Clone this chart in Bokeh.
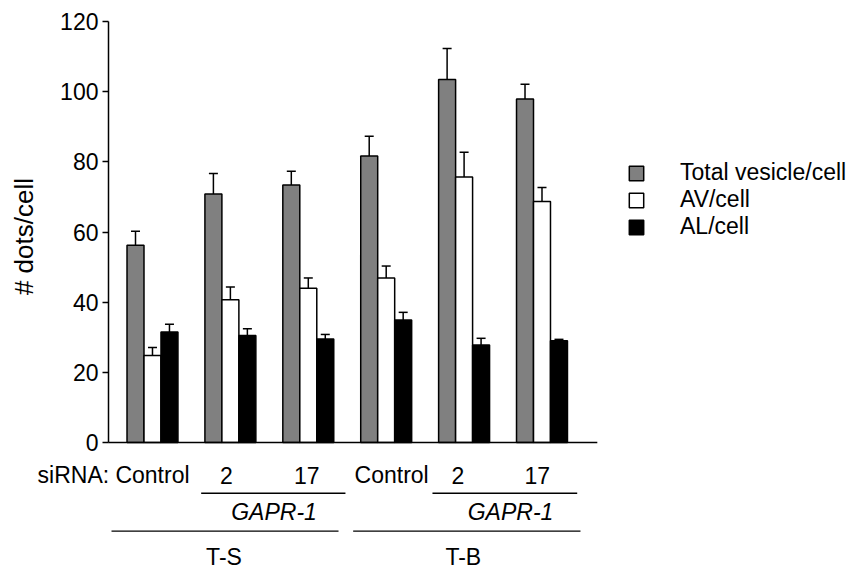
import math
from bokeh.plotting import figure
from bokeh.models import (Range1d, ColumnDataSource, Whisker, TeeHead,
                          Legend, LegendItem, FixedTicker)
from bokeh.core.properties import value
from bokeh.transform import dodge
from bokeh.embed import file_html
from bokeh.resources import INLINE

# ---------------- data ----------------
groups = [0, 1, 2, 3, 4, 5]
sirna_labels = ["Control", "2", "17", "Control", "2", "17"]
series_names = ["Total vesicle/cell", "AV/cell", "AL/cell"]
total = [56.2, 70.8, 73.4, 81.7, 103.5, 97.9]
total_err = [4.0, 5.9, 3.9, 5.6, 8.8, 4.2]
av = [24.8, 40.7, 44.0, 46.9, 75.7, 68.7]
av_err = [2.3, 3.6, 2.9, 3.4, 7.0, 4.0]
al = [31.5, 30.5, 29.5, 34.9, 27.8, 29.0]
al_err = [2.2, 1.9, 1.3, 2.2, 1.9, 0.4]
y_ticks = [0, 20, 40, 60, 80, 100, 120]
gene_label = "GAPR-1"
cell_lines = ["T-S", "T-B"]
y_title = "# dots/cell"

FONT = "Liberation Sans"
FS = "23px"

X0, X1 = -1.951, 9.05
Y0, Y1 = -36.77, 125.99
AXIS_X = -0.565

p = figure(width=857, height=571, output_backend="svg", toolbar_location=None,
           x_range=Range1d(X0, X1), y_range=Range1d(Y0, Y1),
           min_border_left=0, min_border_right=0, min_border_top=0,
           min_border_bottom=0)
p.outline_line_color = None
p.xgrid.visible = False
p.ygrid.visible = False
p.xaxis.visible = False
p.background_fill_color = "white"
p.border_fill_color = "white"

ya = p.yaxis[0]
ya.fixed_location = AXIS_X
ya.ticker = FixedTicker(ticks=y_ticks)
ya.bounds = (0, 120)
ya.major_tick_out = 6
ya.major_tick_in = 0
ya.minor_tick_out = 0
ya.minor_tick_in = 0
ya.axis_line_width = 1.5
ya.major_tick_line_width = 1.5
ya.major_label_standoff = 4
ya.major_label_text_font = FONT
ya.major_label_text_font_size = FS
ya.major_label_text_color = "black"

src = ColumnDataSource(dict(
    x=groups, total=total, av=av, al=al,
    total_top=[v + e for v, e in zip(total, total_err)],
    av_top=[v + e for v, e in zip(av, av_err)],
    al_top=[v + e for v, e in zip(al, al_err)],
))

BW = 0.218
specs = [("total", -BW, "#808080"), ("av", 0.0, "white"), ("al", BW, "black")]
renderers = []
for col, off, color in specs:
    r = p.vbar(x=dodge("x", off, range=p.x_range), top=col, width=BW, bottom=0,
               source=src, fill_color=color, line_color="black", line_width=1.5)
    renderers.append(r)
    w = Whisker(base=dodge("x", off, range=p.x_range), lower=col, upper=col + "_top",
                source=src, dimension="height", line_width=1.5, line_color="black",
                lower_head=None,
                upper_head=TeeHead(size=9, line_width=1.5, line_color="black"))
    p.add_layout(w)

# x axis line
p.segment(x0=[AXIS_X], y0=[0], x1=[5.71], y1=[0], line_color="black", line_width=1.5)

# y axis title
p.text(x=[-1.643], y=[58.7], text=[y_title], angle=math.pi / 2,
       text_align="center", text_baseline="middle",
       text_font=value(FONT), text_font_size="26px", text_color="black")

# legend
legend = Legend(items=[LegendItem(label=n, renderers=[r]) for n, r in zip(series_names, renderers)],
                location=(627, 331), glyph_width=18, glyph_height=18, label_standoff=35,
                spacing=0, padding=0, margin=0, border_line_alpha=0, background_fill_alpha=0,
                label_text_font=FONT, label_text_font_size=FS, label_text_color="black")
p.add_layout(legend)

def lab(xs, ys, texts, align="center", style="normal"):
    p.text(x=xs, y=ys, text=texts, text_align=align, text_baseline="middle",
           text_font=value(FONT), text_font_size=FS, text_font_style=style,
           text_color="black")

def hlines(x0s, x1s, y):
    p.segment(x0=x0s, y0=[y] * len(x0s), x1=x1s, y1=[y] * len(x0s),
              line_color="black", line_width=1.3)

# row of siRNA labels
nudges = [0.0, -0.05, -0.02, 0.07, -0.08, -0.06]
lab([-1.475], [-9.4], ["siRNA:"], align="left")
lab([g + n for g, n in zip(groups, nudges)], [-9.4] * len(groups), sirna_labels)

# GAPR-1 underlines and labels
hlines([0.625, 3.594], [2.477, 5.452], -14.46)
lab([1.56, 4.596], [-19.9, -19.9], [gene_label, gene_label], style="italic")

# cell line underlines and labels
hlines([-0.526, 2.576], [2.388, 5.494], -25.28)
lab([0.918, 3.99], [-32.7, -32.7], cell_lines)

open("out.html", "w").write(file_html(p, INLINE))
